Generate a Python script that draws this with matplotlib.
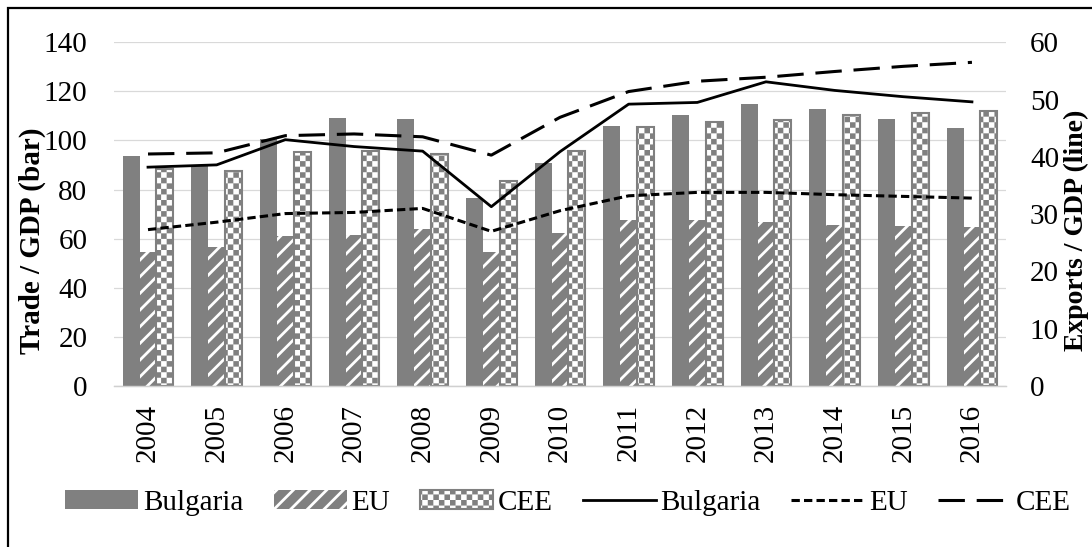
import numpy as np
import matplotlib
matplotlib.use('Agg')
import matplotlib.pyplot as plt
import matplotlib.hatch as mhatch
from matplotlib.patches import Rectangle

# data
years = ['2004', '2005', '2006', '2007', '2008', '2009', '2010',
         '2011', '2012', '2013', '2014', '2015', '2016']
trade_bulgaria = [93.5, 90.0, 100.5, 109.0, 108.8, 76.5, 91.0, 106.0, 110.4, 114.8, 113.0, 108.8, 105.0]
trade_eu = [54.5, 56.8, 61.0, 61.5, 63.8, 54.6, 62.4, 67.6, 67.6, 66.6, 65.6, 65.2, 64.7]
trade_cee = [88.5, 87.5, 95.2, 95.8, 94.6, 83.5, 95.9, 105.4, 107.7, 108.4, 110.4, 111.3, 112.0]
exp_bulgaria = [38.2, 38.6, 43.0, 41.8, 41.0, 31.3, 40.9, 49.2, 49.5, 53.1, 51.6, 50.5, 49.6]
exp_eu = [27.3, 28.6, 30.1, 30.3, 31.0, 27.0, 30.6, 33.2, 33.8, 33.8, 33.4, 33.1, 32.8]
exp_cee = [40.5, 40.7, 43.7, 44.0, 43.5, 40.3, 46.9, 51.4, 53.2, 53.9, 54.9, 55.8, 56.5]

plt.rcParams['font.family'] = ['Liberation Serif', 'DejaVu Serif']
plt.rcParams['hatch.linewidth'] = 2.0
plt.rcParams['lines.scale_dashes'] = False

GREY = '#808080'


class CheckerHatch(mhatch.HatchPatternBase):
    """checkerboard of filled squares, takes the place of the 'o' hatch"""
    def __init__(self, hatch, density):
        self.k = hatch.count('o') * 9
        self.num_vertices = 2 * self.k * self.k * 5

    def set_vertices_and_codes(self, vertices, codes):
        s = 1.0 / (2 * self.k)
        m = plt.rcParams['hatch.linewidth'] / 72.0 / 2.0
        verts = []
        for j in range(2 * self.k):
            for i in range(self.k):
                x0 = (2 * i + j % 2) * s + m
                y0 = j * s + m
                x1 = x0 + s - 2 * m
                y1 = y0 + s - 2 * m
                verts += [[x0, y0], [x1, y0], [x1, y1], [x0, y1], [x0, y0]]
        vertices[:] = np.array(verts)
        sq = [1, 2, 2, 2, 79]
        codes[:] = np.tile(sq, 2 * self.k * self.k)


mhatch._hatch_types = [CheckerHatch if t is mhatch.SmallCircles else t
                       for t in mhatch._hatch_types]

fig = plt.figure(figsize=(10.92, 5.47), dpi=100)
ax = fig.add_axes([0.1041, 0.2943, 0.8174, 0.6284])
ax2 = ax.twinx()

x = np.arange(len(years))
w = 0.245
b1 = ax.bar(x - w, trade_bulgaria, w, color=GREY, linewidth=0, label='Bulgaria')
b2 = ax.bar(x, trade_eu, w, color=GREY, edgecolor='white', linewidth=0,
            hatch='//', label='EU')
b3 = ax.bar(x + w, trade_cee, w, color='white', edgecolor=GREY, linewidth=1.5,
            hatch='o', label='CEE')

l1, = ax2.plot(x, exp_bulgaria, color='black', lw=2.0, label='Bulgaria')
l2, = ax2.plot(x, exp_eu, color='black', lw=2.2, dashes=(6, 3), label='EU')
l3, = ax2.plot(x, exp_cee, color='black', lw=2.2, dashes=(19, 8.5), label='CEE')

ax.set_xlim(-0.5, len(years) - 0.5)
ax.set_ylim(0, 140)
ax.set_yticks(range(0, 141, 20))
ax2.set_ylim(0, 60)
ax2.set_yticks(range(0, 61, 10))
ax.set_xticks(x)
ax.set_xticklabels(years, rotation=90)

ax.set_axisbelow(True)
ax.yaxis.grid(True, color='#d9d9d9', lw=0.9)
for a in (ax, ax2):
    for side in ('top', 'left', 'right'):
        a.spines[side].set_visible(False)
    a.spines['bottom'].set_color('#d0d0d0')
    a.spines['bottom'].set_linewidth(0.9)

ax.tick_params(axis='y', length=0, pad=19, labelsize=21)
ax.tick_params(axis='x', length=0, pad=13, labelsize=21)
ax2.tick_params(axis='y', length=0, pad=17, labelsize=21)

ax.set_ylabel('Trade / GDP (bar)', fontsize=21, fontweight='bold')
ax.yaxis.set_label_coords(-0.076, 0.422)
ax2.set_ylabel('Exports / GDP (line)', fontsize=20, fontweight='bold')
ax2.yaxis.set_label_coords(1.064, 0.454)

fig.legend(handles=[b1, b2, b3, l1, l2, l3], loc='center',
           bbox_to_anchor=(0.52, 0.0804), ncol=6, frameon=False, fontsize=21,
           handlelength=2.5, handleheight=0.6, handletextpad=0.15,
           columnspacing=1.05, borderaxespad=0)

# chart frame, cropped at right and bottom
fig.patches.append(Rectangle((8 / 1092, -0.1), 1.2, 1 - 8 / 547 + 0.1,
                             transform=fig.transFigure, fill=False,
                             edgecolor='black', lw=1.6))

plt.savefig('out.png', dpi=100)
plt.close(fig)
